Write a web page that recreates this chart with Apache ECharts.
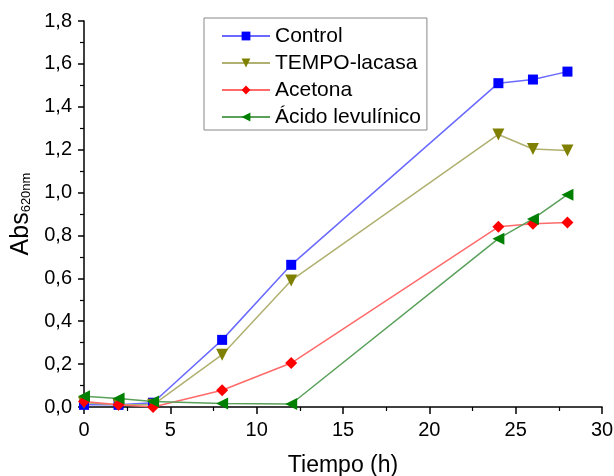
<!DOCTYPE html>
<html><head><meta charset="utf-8">
<script src="https://cdn.jsdelivr.net/npm/echarts@6/dist/echarts.min.js"></script>
<style>html,body{margin:0;padding:0;background:#fff}#c{width:614px;height:476px}</style>
</head><body><div id="c"></div>
<script>
const times = [0, 2, 4, 8, 12, 24, 26, 28];
const control = [0.01, 0.01, 0.02, 0.313, 0.663, 1.51, 1.527, 1.564];
const tempo = [0.02, 0.01, 0.01, 0.244, 0.59, 1.271, 1.203, 1.196];
const acetona = [0.026, 0.011, 0.0, 0.078, 0.205, 0.84, 0.855, 0.86];
const acido = [0.05, 0.04, 0.026, 0.016, 0.014, 0.785, 0.877, 0.99];
const seriesNames = ['Control', 'TEMPO-lacasa', 'Acetona', 'Ácido levulínico'];

const font = 'Arial, "Liberation Sans", sans-serif';
function pairs(v){ return times.map((t,i)=>[t, v[i]]); }
function mk(name, vals, sym, rot, size, color, lineColor){
  return {name, type:'line', data:pairs(vals), symbol:sym, symbolRotate:rot, symbolSize:size,
    showSymbol:true, itemStyle:{color:color}, lineStyle:{color:lineColor, width:1.5}, z: 3};
}
const chart = echarts.init(document.getElementById('c'));
chart.setOption({
  animation:false,
  backgroundColor:'#fff',
  grid:{left:84, right:12, top:21, bottom:69, containLabel:false, outerBoundsMode:'none'},
  legend:{
    orient:'vertical', left:204, top:18,
    padding:[7,6,2,17],
    itemWidth:48, itemHeight:11, itemGap:5,
    borderColor:'#888', borderWidth:1,
    textStyle:{fontFamily:font, fontSize:21, color:'#000', lineHeight:22, padding:[0,0,0,0]},
    data:seriesNames
  },
  xAxis:{
    type:'value', min:0, max:30, interval:5,
    axisLine:{show:true, lineStyle:{color:'#000', width:1.5}},
    axisTick:{show:true, inside:false, length:7, lineStyle:{color:'#000', width:1.5}},
    minorTick:{show:true, splitNumber:2, length:4, lineStyle:{color:'#000', width:1.2}},
    splitLine:{show:false},
    axisLabel:{fontFamily:font, fontSize:20, color:'#000', margin:13},
    name:'Tiempo (h)', nameLocation:'middle', nameGap:47,
    nameTextStyle:{fontFamily:font, fontSize:23, color:'#000'}
  },
  yAxis:{
    type:'value', min:0, max:1.8, interval:0.2,
    axisLine:{show:true, lineStyle:{color:'#000', width:1.5}},
    axisTick:{show:true, inside:false, length:6, lineStyle:{color:'#000', width:1.5}},
    minorTick:{show:true, splitNumber:2, length:4, lineStyle:{color:'#000', width:1.2}},
    splitLine:{show:false},
    axisLabel:{fontFamily:font, fontSize:20, color:'#000', margin:12,
      formatter:v=>v.toFixed(1).replace('.', ',')},
    name:'{a|Abs}{b|620nm}', nameLocation:'middle', nameGap:50, nameRotate:90,
    nameTextStyle:{fontFamily:font, fontSize:25, color:'#000',
      rich:{a:{fontFamily:font, fontSize:25, color:'#000'},
            b:{fontFamily:font, fontSize:13, color:'#000', verticalAlign:'bottom', padding:[12,0,0,0]}}}
  },
  series:[
    mk(seriesNames[0], control, 'rect', 0, 10, '#0000ff', '#6a6aff'),
    mk(seriesNames[1], tempo, 'triangle', 180, 12, '#808000', '#b0b070'),
    mk(seriesNames[2], acetona, 'diamond', 0, 12, '#ff0000', '#ff6a6a'),
    mk(seriesNames[3], acido, 'triangle', 90, 12, '#008000', '#5aa05a')
  ]
});
</script></body></html>
